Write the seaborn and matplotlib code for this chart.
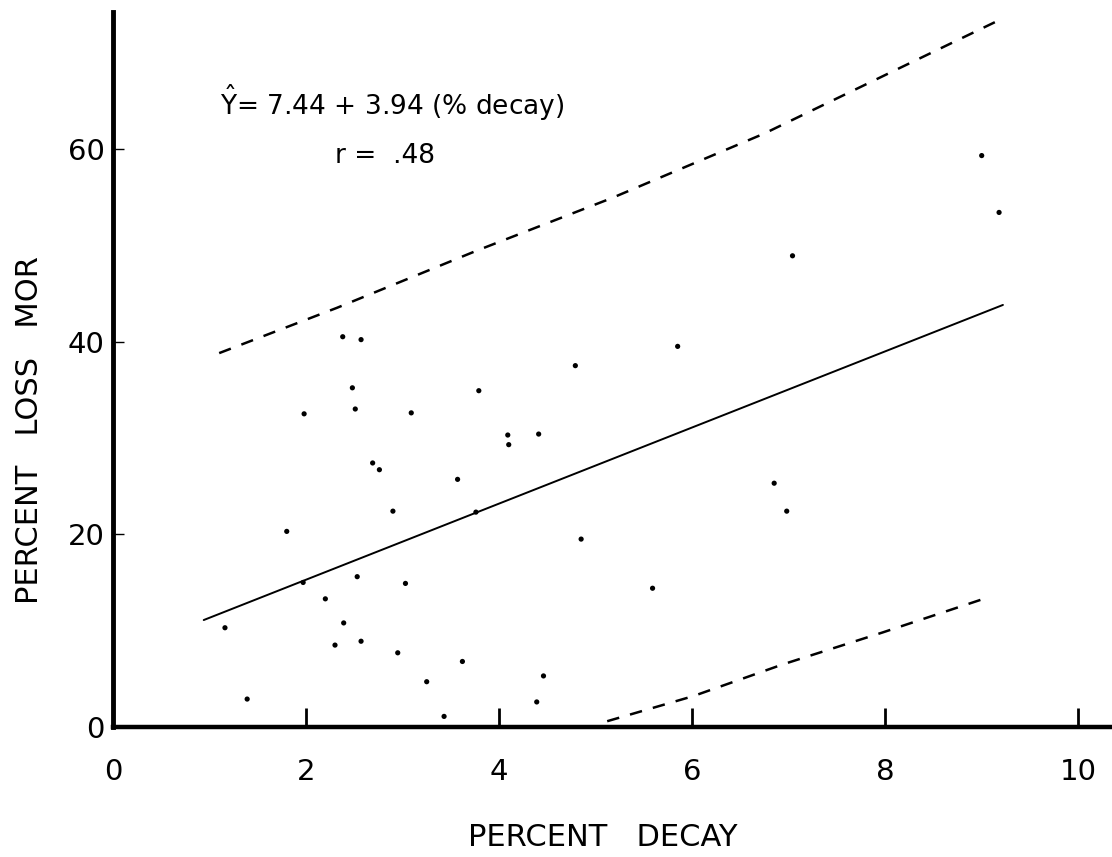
import matplotlib
matplotlib.use("Agg")
import matplotlib.pyplot as plt
import seaborn as sns
import pandas as pd

# ---- data ----
pct_decay = [2.38, 2.57, 2.48, 2.51, 1.98, 3.09, 3.79, 2.69, 2.76, 3.57,
             2.90, 1.80, 1.97, 2.53, 3.03, 2.20, 1.16, 2.39, 2.30, 2.57,
             2.95, 3.62, 3.25, 1.39, 3.43, 3.76, 4.79, 5.85, 4.09, 4.10,
             4.41, 6.85, 6.98, 4.85, 5.59, 4.46, 4.39, 9.00, 9.18, 7.04]
pct_loss_mor = [40.5, 40.2, 35.2, 33.0, 32.5, 32.6, 34.9, 27.4, 26.7, 25.7,
                22.4, 20.3, 15.0, 15.6, 14.9, 13.3, 10.3, 10.8, 8.5, 8.9,
                7.7, 6.8, 4.7, 2.9, 1.1, 22.3, 37.5, 39.5, 30.3, 29.3,
                30.4, 25.3, 22.4, 19.5, 14.4, 5.3, 2.6, 59.3, 53.4, 48.9]

fit_x = [0.94, 9.22]
fit_y = [11.1, 43.8]

upper_x = [1.10, 2.32, 3.76, 5.17, 6.75, 8.05, 9.19]
upper_y = [38.8, 43.5, 49.4, 54.9, 61.6, 67.9, 73.4]

lower_x = [5.12, 6.01, 6.94, 7.97, 9.05]
lower_y = [0.6, 3.2, 6.5, 9.8, 13.4]

x_ticks = [0, 2, 4, 6, 8, 10]
y_ticks = [0, 20, 40, 60]

equation_text = "$\\hat{\\mathrm{Y}}$= 7.44 + 3.94 (% decay)"
r_text = "r =  .48"
x_label = "PERCENT   DECAY"
y_label = "PERCENT   LOSS   MOR"

# ---- plot ----
sns.set_theme(style="white")
plt.rcParams["font.family"] = ["DejaVu Sans"]

fig = plt.figure(figsize=(11.12, 8.57), dpi=100)
ax = fig.add_axes([113 / 1112, 1 - 727 / 857, (1112 - 113) / 1112, (727 - 12) / 857])

df = pd.DataFrame({"decay": pct_decay, "loss": pct_loss_mor})
sns.scatterplot(data=df, x="decay", y="loss", ax=ax, color="black", s=14,
                edgecolor="none", legend=False)
sns.lineplot(x=fit_x, y=fit_y, ax=ax, color="black", linewidth=1.4)
sns.lineplot(x=upper_x, y=upper_y, ax=ax, color="black", linewidth=1.8,
             linestyle=(0, (5, 4.5)))
sns.lineplot(x=lower_x, y=lower_y, ax=ax, color="black", linewidth=1.8,
             linestyle=(0, (5, 4.5)))

ax.set_xlim(0, 10.35)
ax.set_ylim(0, 74.2)
ax.set_xticks(x_ticks)
ax.set_yticks(y_ticks)
ax.set_xticklabels([str(t) for t in x_ticks], fontsize=21)
ax.set_yticklabels([str(t) for t in y_ticks], fontsize=21)
ax.tick_params(axis="x", direction="in", length=14, width=2, pad=22, colors="black")
ax.tick_params(axis="y", direction="in", length=8, width=1, pad=6, colors="black")
ax.tick_params(bottom=True, left=True)

for side in ["top", "right"]:
    ax.spines[side].set_visible(False)
ax.spines["left"].set_linewidth(3.5)
ax.spines["bottom"].set_linewidth(3.2)
ax.spines["left"].set_color("black")
ax.spines["bottom"].set_color("black")

ax.set_xlabel(x_label, fontsize=22, color="black")
ax.set_ylabel(y_label, fontsize=22, color="black")
ax.xaxis.set_label_coords((603 - 113) / 999, -(838 - 727) / 715)
ax.yaxis.set_label_coords((30 - 113) / 999, (727 - 430) / 715)
ax.xaxis.label.set_va("center")
ax.yaxis.label.set_va("center")

ax.text(1.11, 64.8, equation_text, fontsize=19, color="black", va="center", ha="left")
ax.text(2.3, 59.3, r_text, fontsize=19, color="black", va="center", ha="left")

fig.savefig("out.png", dpi=100)
